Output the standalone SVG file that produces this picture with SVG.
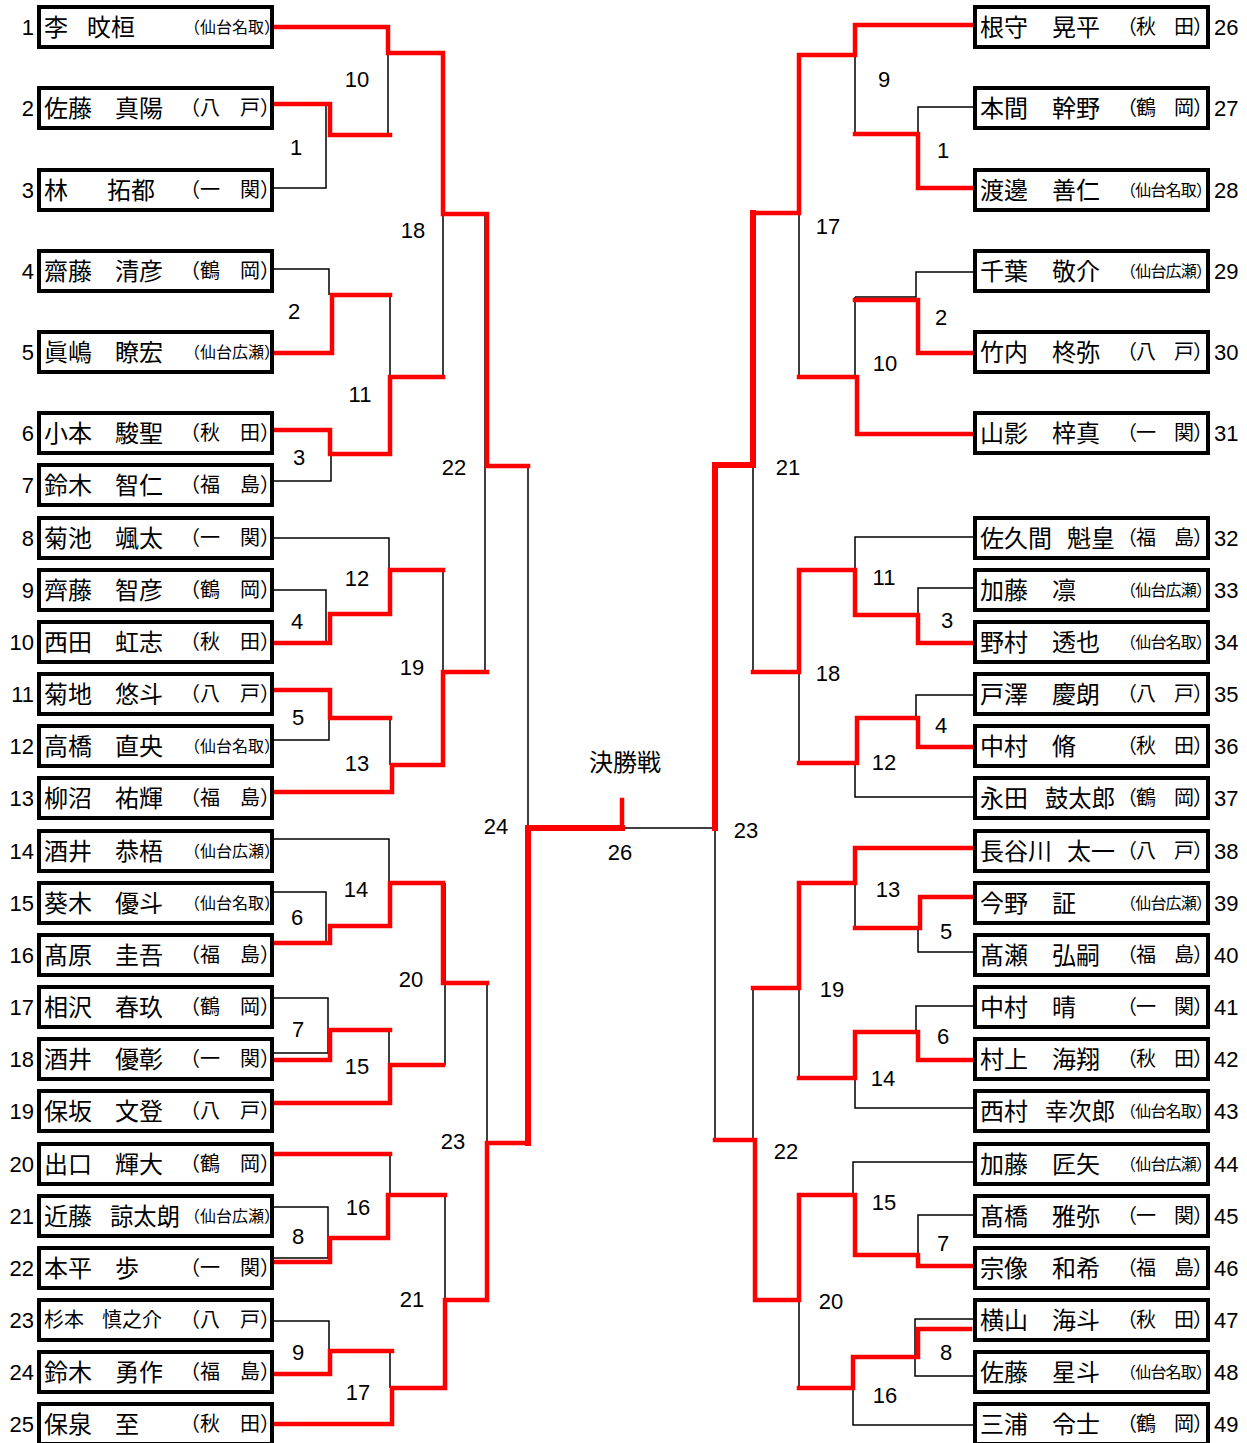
<svg xmlns="http://www.w3.org/2000/svg" width="1247" height="1443" viewBox="0 0 1247 1443">
<style>
.box{fill:#fff;stroke:#000;stroke-width:4}
.nm{font-family:"Noto Sans CJK JP","Noto Sans CJK SC",sans-serif;font-size:24px;fill:#000}
.nms{font-family:"Noto Sans CJK JP","Noto Sans CJK SC",sans-serif;font-size:20px;fill:#000}
.af{font-family:"Noto Sans CJK JP","Noto Sans CJK SC",sans-serif;font-size:20px;fill:#000}
.afs{font-family:"Noto Sans CJK JP","Noto Sans CJK SC",sans-serif;font-size:16px;fill:#000}
.no{font-family:"Liberation Sans",Arial,sans-serif;font-size:22px;fill:#000}
.lb{font-family:"Liberation Sans",Arial,sans-serif;font-size:22px;fill:#000;text-anchor:middle}
.ttl{font-family:"Noto Sans CJK JP","Noto Sans CJK SC",sans-serif;font-size:24px;fill:#000;text-anchor:middle}
.blk{fill:none;stroke:#000;stroke-width:1.5}
.red{fill:none;stroke:#f00;stroke-width:4.5;stroke-linejoin:miter;stroke-linecap:square}
.redt{fill:none;stroke:#f00;stroke-width:6;stroke-linejoin:miter;stroke-linecap:square}
</style>

<g id="connectors">
<g id="black-lines">
<path class="blk" d="M273,104H326V188H273M388,53V135M443,53V376M273,269H329V295M390,295V454M331,454V481H273M485,214V672M273,538H389V569M273,590H326V643M443,569V765M273,740H329V718M390,718V765M528,466V828M273,839H389V883M273,892H326V943M445,883V1065M273,998H328V1053H273M389,1030V1065M487,983V1300M390,1154V1195M273,1207H328V1258H273M445,1195V1388M273,1321H329V1352M390,1351V1388M622,828H715"/>
<path class="blk" d="M855,55V134M973,107H918V135M799,213V377M973,272H916V297H855M855,297V377M753,465V672M973,537H855V570M973,588H918V615M799,672V763M973,695H916V718M973,797H855V763M715,828V1140M855,883V928M918,927V952H973M799,988V1078M973,1006H916V1032M855,1078V1108H973M753,988V1140M973,1162H853V1195M973,1215H918V1255M799,1300V1388M973,1319H915V1376H973M853,1388V1425H973"/>
</g>
<g id="red-lines">
<path class="red" d="M273,104H330V135H390"/>
<path class="red" d="M273,27H388V53H443V214H487V466H528"/>
<path class="red" d="M273,353H332V295H390"/>
<path class="red" d="M273,430H330V454H390V377H443"/>
<path class="red" d="M273,643H330V614H390V570H443"/>
<path class="red" d="M273,690H330V718H390"/>
<path class="red" d="M273,792H392V765H443V672H487"/>
<path class="red" d="M273,943H330V926H390V883H443V983H487"/>
<path class="red" d="M273,1060H330V1030H390"/>
<path class="red" d="M273,1103H390V1065H443"/>
<path class="red" d="M273,1154H390"/>
<path class="red" d="M273,1262H330V1238H388V1195H445"/>
<path class="red" d="M273,1374H330V1351H392"/>
<path class="red" d="M273,1424H392V1388H445V1300H487V1143H528"/>
<path class="redt" d="M528,1143V828H622"/>
<path class="red" d="M622,828V800"/>
<path class="red" d="M973,25H855V55H799V213H753"/>
<path class="redt" d="M753,213V465H715V828"/>
<path class="red" d="M973,188H918V134H855"/>
<path class="red" d="M973,353H918V300H855"/>
<path class="red" d="M973,434H857V377H799"/>
<path class="red" d="M973,643H918V615H855V570H799V672H753"/>
<path class="red" d="M973,747H918V718H857V763H799"/>
<path class="red" d="M973,848H855V883H799V988H753"/>
<path class="red" d="M973,897H920V928H855"/>
<path class="red" d="M973,1060H918V1032H855V1078H799"/>
<path class="red" d="M973,1266H918V1255H855V1195H799V1300H755V1140H715"/>
<path class="red" d="M970,1329H918V1357H853V1388H799"/>
</g>
<g id="match-labels">
<text class="lb" x="357" y="87">10</text>
<text class="lb" x="296" y="155">1</text>
<text class="lb" x="413" y="238">18</text>
<text class="lb" x="294" y="319">2</text>
<text class="lb" x="360" y="402">11</text>
<text class="lb" x="299" y="465">3</text>
<text class="lb" x="454" y="475">22</text>
<text class="lb" x="357" y="586">12</text>
<text class="lb" x="297" y="629">4</text>
<text class="lb" x="412" y="675">19</text>
<text class="lb" x="298" y="725">5</text>
<text class="lb" x="357" y="771">13</text>
<text class="lb" x="496" y="834">24</text>
<text class="lb" x="356" y="897">14</text>
<text class="lb" x="297" y="925">6</text>
<text class="lb" x="411" y="987">20</text>
<text class="lb" x="298" y="1037">7</text>
<text class="lb" x="357" y="1074">15</text>
<text class="lb" x="453" y="1149">23</text>
<text class="lb" x="358" y="1215">16</text>
<text class="lb" x="298" y="1244">8</text>
<text class="lb" x="412" y="1307">21</text>
<text class="lb" x="298" y="1360">9</text>
<text class="lb" x="358" y="1400">17</text>
<text class="lb" x="620" y="860">26</text>
<text class="lb" x="884" y="87">9</text>
<text class="lb" x="943" y="158">1</text>
<text class="lb" x="828" y="234">17</text>
<text class="lb" x="941" y="325">2</text>
<text class="lb" x="885" y="371">10</text>
<text class="lb" x="788" y="475">21</text>
<text class="lb" x="884" y="585">11</text>
<text class="lb" x="947" y="628">3</text>
<text class="lb" x="828" y="681">18</text>
<text class="lb" x="941" y="733">4</text>
<text class="lb" x="884" y="770">12</text>
<text class="lb" x="746" y="838">23</text>
<text class="lb" x="888" y="897">13</text>
<text class="lb" x="946" y="939">5</text>
<text class="lb" x="832" y="997">19</text>
<text class="lb" x="943" y="1044">6</text>
<text class="lb" x="883" y="1086">14</text>
<text class="lb" x="786" y="1159">22</text>
<text class="lb" x="884" y="1210">15</text>
<text class="lb" x="943" y="1251">7</text>
<text class="lb" x="831" y="1309">20</text>
<text class="lb" x="946" y="1360">8</text>
<text class="lb" x="885" y="1403">16</text>
</g>
</g>

<g id="final-title"><text class="ttl" x="625" y="771">決勝戦</text></g>

<g id="p1"><rect class="box" x="39" y="7" width="233" height="40"/><text class="no" x="34" y="35" text-anchor="end">1</text><text class="nm" y="36"><tspan x="44">李</tspan><tspan x="87">旼桓</tspan></text><text class="afs" x="184" y="33">（仙台名取）</text></g>
<g id="p2"><rect class="box" x="39" y="88" width="233" height="40"/><text class="no" x="34" y="116" text-anchor="end">2</text><text class="nm" y="117"><tspan x="44">佐藤</tspan><tspan x="115">真陽</tspan></text><text class="af" x="180" y="115">（八　戸）</text></g>
<g id="p3"><rect class="box" x="39" y="170" width="233" height="40"/><text class="no" x="34" y="198" text-anchor="end">3</text><text class="nm" y="199"><tspan x="44">林</tspan><tspan x="107">拓都</tspan></text><text class="af" x="180" y="197">（一　関）</text></g>
<g id="p4"><rect class="box" x="39" y="251" width="233" height="40"/><text class="no" x="34" y="279" text-anchor="end">4</text><text class="nm" y="280"><tspan x="44">齋藤</tspan><tspan x="115">清彦</tspan></text><text class="af" x="180" y="278">（鶴　岡）</text></g>
<g id="p5"><rect class="box" x="39" y="332" width="233" height="40"/><text class="no" x="34" y="360" text-anchor="end">5</text><text class="nm" y="361"><tspan x="44">眞嶋</tspan><tspan x="115">瞭宏</tspan></text><text class="afs" x="184" y="358">（仙台広瀬）</text></g>
<g id="p6"><rect class="box" x="39" y="413" width="233" height="40"/><text class="no" x="34" y="441" text-anchor="end">6</text><text class="nm" y="442"><tspan x="44">小本</tspan><tspan x="115">駿聖</tspan></text><text class="af" x="180" y="440">（秋　田）</text></g>
<g id="p7"><rect class="box" x="39" y="465" width="233" height="40"/><text class="no" x="34" y="493" text-anchor="end">7</text><text class="nm" y="494"><tspan x="44">鈴木</tspan><tspan x="115">智仁</tspan></text><text class="af" x="180" y="492">（福　島）</text></g>
<g id="p8"><rect class="box" x="39" y="518" width="233" height="40"/><text class="no" x="34" y="546" text-anchor="end">8</text><text class="nm" y="547"><tspan x="44">菊池</tspan><tspan x="115">颯太</tspan></text><text class="af" x="180" y="545">（一　関）</text></g>
<g id="p9"><rect class="box" x="39" y="570" width="233" height="40"/><text class="no" x="34" y="598" text-anchor="end">9</text><text class="nm" y="599"><tspan x="44">齊藤</tspan><tspan x="115">智彦</tspan></text><text class="af" x="180" y="597">（鶴　岡）</text></g>
<g id="p10"><rect class="box" x="39" y="622" width="233" height="40"/><text class="no" x="34" y="650" text-anchor="end">10</text><text class="nm" y="651"><tspan x="44">西田</tspan><tspan x="115">虹志</tspan></text><text class="af" x="180" y="649">（秋　田）</text></g>
<g id="p11"><rect class="box" x="39" y="674" width="233" height="40"/><text class="no" x="34" y="702" text-anchor="end">11</text><text class="nm" y="703"><tspan x="44">菊地</tspan><tspan x="115">悠斗</tspan></text><text class="af" x="180" y="701">（八　戸）</text></g>
<g id="p12"><rect class="box" x="39" y="726" width="233" height="40"/><text class="no" x="34" y="754" text-anchor="end">12</text><text class="nm" y="755"><tspan x="44">高橋</tspan><tspan x="115">直央</tspan></text><text class="afs" x="184" y="752">（仙台名取）</text></g>
<g id="p13"><rect class="box" x="39" y="778" width="233" height="40"/><text class="no" x="34" y="806" text-anchor="end">13</text><text class="nm" y="807"><tspan x="44">柳沼</tspan><tspan x="115">祐輝</tspan></text><text class="af" x="180" y="805">（福　島）</text></g>
<g id="p14"><rect class="box" x="39" y="831" width="233" height="40"/><text class="no" x="34" y="859" text-anchor="end">14</text><text class="nm" y="860"><tspan x="44">酒井</tspan><tspan x="115">恭梧</tspan></text><text class="afs" x="184" y="857">（仙台広瀬）</text></g>
<g id="p15"><rect class="box" x="39" y="883" width="233" height="40"/><text class="no" x="34" y="911" text-anchor="end">15</text><text class="nm" y="912"><tspan x="44">葵木</tspan><tspan x="115">優斗</tspan></text><text class="afs" x="184" y="909">（仙台名取）</text></g>
<g id="p16"><rect class="box" x="39" y="935" width="233" height="40"/><text class="no" x="34" y="963" text-anchor="end">16</text><text class="nm" y="964"><tspan x="44">髙原</tspan><tspan x="115">圭吾</tspan></text><text class="af" x="180" y="962">（福　島）</text></g>
<g id="p17"><rect class="box" x="39" y="987" width="233" height="40"/><text class="no" x="34" y="1015" text-anchor="end">17</text><text class="nm" y="1016"><tspan x="44">相沢</tspan><tspan x="115">春玖</tspan></text><text class="af" x="180" y="1014">（鶴　岡）</text></g>
<g id="p18"><rect class="box" x="39" y="1039" width="233" height="40"/><text class="no" x="34" y="1067" text-anchor="end">18</text><text class="nm" y="1068"><tspan x="44">酒井</tspan><tspan x="115">優彰</tspan></text><text class="af" x="180" y="1066">（一　関）</text></g>
<g id="p19"><rect class="box" x="39" y="1091" width="233" height="40"/><text class="no" x="34" y="1119" text-anchor="end">19</text><text class="nm" y="1120"><tspan x="44">保坂</tspan><tspan x="115">文登</tspan></text><text class="af" x="180" y="1118">（八　戸）</text></g>
<g id="p20"><rect class="box" x="39" y="1144" width="233" height="40"/><text class="no" x="34" y="1172" text-anchor="end">20</text><text class="nm" y="1173"><tspan x="44">出口</tspan><tspan x="115">輝大</tspan></text><text class="af" x="180" y="1171">（鶴　岡）</text></g>
<g id="p21"><rect class="box" x="39" y="1196" width="233" height="40"/><text class="no" x="34" y="1224" text-anchor="end">21</text><text class="nm" y="1225"><tspan x="44">近藤</tspan><tspan x="110" textLength="70" lengthAdjust="spacingAndGlyphs">諒太朗</tspan></text><text class="afs" x="184" y="1222">（仙台広瀬）</text></g>
<g id="p22"><rect class="box" x="39" y="1248" width="233" height="40"/><text class="no" x="34" y="1276" text-anchor="end">22</text><text class="nm" y="1277"><tspan x="44">本平</tspan><tspan x="115">歩</tspan></text><text class="af" x="180" y="1275">（一　関）</text></g>
<g id="p23"><rect class="box" x="39" y="1300" width="233" height="40"/><text class="no" x="34" y="1328" text-anchor="end">23</text><text class="nms" y="1327"><tspan x="44">杉本</tspan><tspan x="102">慎之介</tspan></text><text class="af" x="180" y="1327">（八　戸）</text></g>
<g id="p24"><rect class="box" x="39" y="1352" width="233" height="40"/><text class="no" x="34" y="1380" text-anchor="end">24</text><text class="nm" y="1381"><tspan x="44">鈴木</tspan><tspan x="115">勇作</tspan></text><text class="af" x="180" y="1379">（福　島）</text></g>
<g id="p25"><rect class="box" x="39" y="1404" width="233" height="40"/><text class="no" x="34" y="1432" text-anchor="end">25</text><text class="nm" y="1433"><tspan x="44">保泉</tspan><tspan x="115">至</tspan></text><text class="af" x="180" y="1431">（秋　田）</text></g>

<g id="p26"><rect class="box" x="975" y="7" width="233" height="40"/><text class="no" x="1214" y="35">26</text><text class="nm" y="36"><tspan x="980">根守</tspan><tspan x="1052">晃平</tspan></text><text class="af" x="1117" y="34" textLength="96" lengthAdjust="spacing">（秋　田）</text></g>
<g id="p27"><rect class="box" x="975" y="88" width="233" height="40"/><text class="no" x="1214" y="116">27</text><text class="nm" y="117"><tspan x="980">本間</tspan><tspan x="1052">幹野</tspan></text><text class="af" x="1117" y="115" textLength="96" lengthAdjust="spacing">（鶴　岡）</text></g>
<g id="p28"><rect class="box" x="975" y="170" width="233" height="40"/><text class="no" x="1214" y="198">28</text><text class="nm" y="199"><tspan x="980">渡邊</tspan><tspan x="1052">善仁</tspan></text><text class="afs" x="1120" y="196" textLength="92" lengthAdjust="spacing">（仙台名取）</text></g>
<g id="p29"><rect class="box" x="975" y="251" width="233" height="40"/><text class="no" x="1214" y="279">29</text><text class="nm" y="280"><tspan x="980">千葉</tspan><tspan x="1052">敬介</tspan></text><text class="afs" x="1120" y="277" textLength="92" lengthAdjust="spacing">（仙台広瀬）</text></g>
<g id="p30"><rect class="box" x="975" y="332" width="233" height="40"/><text class="no" x="1214" y="360">30</text><text class="nm" y="361"><tspan x="980">竹内</tspan><tspan x="1052">柊弥</tspan></text><text class="af" x="1117" y="359" textLength="96" lengthAdjust="spacing">（八　戸）</text></g>
<g id="p31"><rect class="box" x="975" y="413" width="233" height="40"/><text class="no" x="1214" y="441">31</text><text class="nm" y="442"><tspan x="980">山影</tspan><tspan x="1052">梓真</tspan></text><text class="af" x="1117" y="440" textLength="96" lengthAdjust="spacing">（一　関）</text></g>
<g id="p32"><rect class="box" x="975" y="518" width="233" height="40"/><text class="no" x="1214" y="546">32</text><text class="nm" y="547"><tspan x="980">佐久間</tspan><tspan x="1067">魁皇</tspan></text><text class="af" x="1117" y="545" textLength="96" lengthAdjust="spacing">（福　島）</text></g>
<g id="p33"><rect class="box" x="975" y="570" width="233" height="40"/><text class="no" x="1214" y="598">33</text><text class="nm" y="599"><tspan x="980">加藤</tspan><tspan x="1052">凛</tspan></text><text class="afs" x="1120" y="596" textLength="92" lengthAdjust="spacing">（仙台広瀬）</text></g>
<g id="p34"><rect class="box" x="975" y="622" width="233" height="40"/><text class="no" x="1214" y="650">34</text><text class="nm" y="651"><tspan x="980">野村</tspan><tspan x="1052">透也</tspan></text><text class="afs" x="1120" y="648" textLength="92" lengthAdjust="spacing">（仙台名取）</text></g>
<g id="p35"><rect class="box" x="975" y="674" width="233" height="40"/><text class="no" x="1214" y="702">35</text><text class="nm" y="703"><tspan x="980">戸澤</tspan><tspan x="1052">慶朗</tspan></text><text class="af" x="1117" y="701" textLength="96" lengthAdjust="spacing">（八　戸）</text></g>
<g id="p36"><rect class="box" x="975" y="726" width="233" height="40"/><text class="no" x="1214" y="754">36</text><text class="nm" y="755"><tspan x="980">中村</tspan><tspan x="1052">脩</tspan></text><text class="af" x="1117" y="753" textLength="96" lengthAdjust="spacing">（秋　田）</text></g>
<g id="p37"><rect class="box" x="975" y="778" width="233" height="40"/><text class="no" x="1214" y="806">37</text><text class="nm" y="807"><tspan x="980">永田</tspan><tspan x="1045" textLength="70" lengthAdjust="spacingAndGlyphs">鼓太郎</tspan></text><text class="af" x="1117" y="805" textLength="96" lengthAdjust="spacing">（鶴　岡）</text></g>
<g id="p38"><rect class="box" x="975" y="831" width="233" height="40"/><text class="no" x="1214" y="859">38</text><text class="nm" y="860"><tspan x="980">長谷川</tspan><tspan x="1067">太一</tspan></text><text class="af" x="1117" y="858" textLength="96" lengthAdjust="spacing">（八　戸）</text></g>
<g id="p39"><rect class="box" x="975" y="883" width="233" height="40"/><text class="no" x="1214" y="911">39</text><text class="nm" y="912"><tspan x="980">今野</tspan><tspan x="1052">証</tspan></text><text class="afs" x="1120" y="909" textLength="92" lengthAdjust="spacing">（仙台広瀬）</text></g>
<g id="p40"><rect class="box" x="975" y="935" width="233" height="40"/><text class="no" x="1214" y="963">40</text><text class="nm" y="964"><tspan x="980">髙瀬</tspan><tspan x="1052">弘嗣</tspan></text><text class="af" x="1117" y="962" textLength="96" lengthAdjust="spacing">（福　島）</text></g>
<g id="p41"><rect class="box" x="975" y="987" width="233" height="40"/><text class="no" x="1214" y="1015">41</text><text class="nm" y="1016"><tspan x="980">中村</tspan><tspan x="1052">晴</tspan></text><text class="af" x="1117" y="1014" textLength="96" lengthAdjust="spacing">（一　関）</text></g>
<g id="p42"><rect class="box" x="975" y="1039" width="233" height="40"/><text class="no" x="1214" y="1067">42</text><text class="nm" y="1068"><tspan x="980">村上</tspan><tspan x="1052">海翔</tspan></text><text class="af" x="1117" y="1066" textLength="96" lengthAdjust="spacing">（秋　田）</text></g>
<g id="p43"><rect class="box" x="975" y="1091" width="233" height="40"/><text class="no" x="1214" y="1119">43</text><text class="nm" y="1120"><tspan x="980">西村</tspan><tspan x="1045" textLength="70" lengthAdjust="spacingAndGlyphs">幸次郎</tspan></text><text class="afs" x="1120" y="1117" textLength="92" lengthAdjust="spacing">（仙台名取）</text></g>
<g id="p44"><rect class="box" x="975" y="1144" width="233" height="40"/><text class="no" x="1214" y="1172">44</text><text class="nm" y="1173"><tspan x="980">加藤</tspan><tspan x="1052">匠矢</tspan></text><text class="afs" x="1120" y="1170" textLength="92" lengthAdjust="spacing">（仙台広瀬）</text></g>
<g id="p45"><rect class="box" x="975" y="1196" width="233" height="40"/><text class="no" x="1214" y="1224">45</text><text class="nm" y="1225"><tspan x="980">髙橋</tspan><tspan x="1052">雅弥</tspan></text><text class="af" x="1117" y="1223" textLength="96" lengthAdjust="spacing">（一　関）</text></g>
<g id="p46"><rect class="box" x="975" y="1248" width="233" height="40"/><text class="no" x="1214" y="1276">46</text><text class="nm" y="1277"><tspan x="980">宗像</tspan><tspan x="1052">和希</tspan></text><text class="af" x="1117" y="1275" textLength="96" lengthAdjust="spacing">（福　島）</text></g>
<g id="p47"><rect class="box" x="975" y="1300" width="233" height="40"/><text class="no" x="1214" y="1328">47</text><text class="nm" y="1329"><tspan x="980">横山</tspan><tspan x="1052">海斗</tspan></text><text class="af" x="1117" y="1327" textLength="96" lengthAdjust="spacing">（秋　田）</text></g>
<g id="p48"><rect class="box" x="975" y="1352" width="233" height="40"/><text class="no" x="1214" y="1380">48</text><text class="nm" y="1381"><tspan x="980">佐藤</tspan><tspan x="1052">星斗</tspan></text><text class="afs" x="1120" y="1378" textLength="92" lengthAdjust="spacing">（仙台名取）</text></g>
<g id="p49"><rect class="box" x="975" y="1404" width="233" height="40"/><text class="no" x="1214" y="1432">49</text><text class="nm" y="1433"><tspan x="980">三浦</tspan><tspan x="1052">令士</tspan></text><text class="af" x="1117" y="1431" textLength="96" lengthAdjust="spacing">（鶴　岡）</text></g>
</svg>
